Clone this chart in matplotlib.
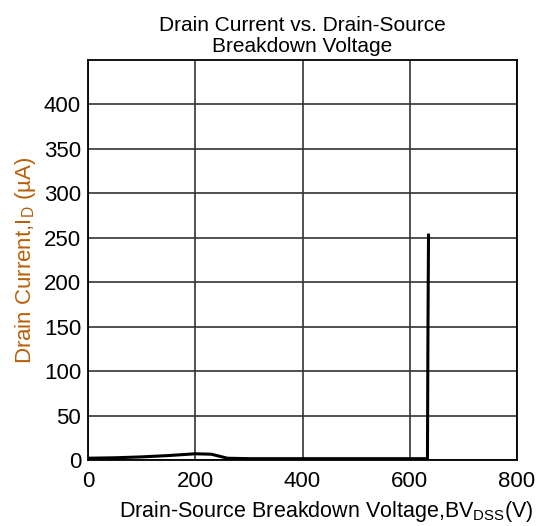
import matplotlib
matplotlib.use("Agg")
import matplotlib.pyplot as plt

# =========================
# DATA
# =========================
voltage = [0, 50, 100, 150, 200, 230, 260, 300, 400, 500, 600, 633, 634, 635]
current = [2, 2.5, 3.5, 5, 7, 6.5, 2, 1.5, 1.5, 1.5, 1.5, 1.5, 150, 253]

x_ticks = [0, 200, 400, 600, 800]
y_ticks = [0, 50, 100, 150, 200, 250, 300, 350, 400]

plt.rcParams['font.family'] = ['Liberation Sans', 'DejaVu Sans']

fig = plt.figure(figsize=(5.45, 5.26), dpi=100)
ax = fig.add_axes([88 / 545, 66 / 526, 429 / 545, 400 / 526])

ax.plot(voltage, current, color='black', linewidth=2.2, solid_joinstyle='miter')

ax.set_xlim(0, 800)
ax.set_ylim(0, 450)
ax.set_xticks(x_ticks)
ax.set_yticks(y_ticks)
ax.tick_params(length=0, labelsize=16)
ax.tick_params(axis='x', pad=8)
ax.tick_params(axis='y', pad=5)

ax.grid(True, color='#333333', linewidth=1.2)
for s in ax.spines.values():
    s.set_linewidth(1.3)

ax.set_title("Drain Current vs. Drain-Source\nBreakdown Voltage",
             fontsize=15, linespacing=1.1, pad=6)
ax.set_xlabel("Drain-Source Breakdown Voltage,BV$_{\\mathregular{DSS}}$(V)",
              fontsize=15.5, labelpad=5, x=0.555)
ax.set_ylabel("Drain Current,I$_{\\mathregular{D}}$ (\u00b5A)",
              fontsize=16, color='#b8600a', labelpad=4)

plt.savefig("out.png", dpi=100)
